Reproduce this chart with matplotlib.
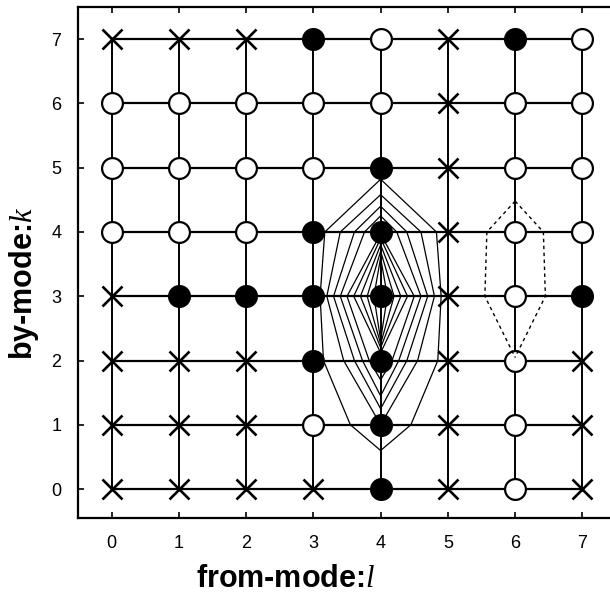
import numpy as np
import matplotlib
matplotlib.use('Agg')
import matplotlib.pyplot as plt

plt.rcParams['font.family'] = ['Liberation Sans', 'DejaVu Sans']
plt.rcParams['mathtext.fontset'] = 'custom'
plt.rcParams['mathtext.it'] = 'Liberation Serif:italic'
plt.rcParams['mathtext.rm'] = 'Liberation Serif'

# ---------------- data ----------------
from_modes = [0, 1, 2, 3, 4, 5, 6, 7]          # l (x axis)
by_modes = [0, 1, 2, 3, 4, 5, 6, 7]            # k (y axis)
x_tick_labels = ['0', '1', '2', '3', '4', '5', '6', '7']
y_tick_labels = ['0', '1', '2', '3', '4', '5', '6', '7']

# node type per by-mode k, one character per from-mode l
# x = cross, o = open circle, f = filled circle
node_rows = {
    7: "xxxfoxfo",
    6: "oooooxoo",
    5: "oooofxoo",
    4: "oooffxoo",
    3: "xffffxof",
    2: "xxxffxox",
    1: "xxxofxox",
    0: "xxxxfxox",
}

# solid nested lens around l=4: half-widths at rows k=4,3,2,1 (None = not reached)
lens_center_l = 4
lens_top = [3.60, 3.70, 3.80, 3.90, 3.97, 4.25, 4.40, 4.58, 4.82]
lens_w4 = [None, None, None, None, None, 0.24, 0.39, 0.60, 0.83]
lens_w3 = [0.10, 0.20, 0.30, 0.40, 0.50, 0.60, 0.70, 0.80, 0.90]
lens_w2 = [None, None, None, None, 0.17, 0.27, 0.39, 0.55, 0.85]
lens_w1 = [None, None, None, None, None, None, None, None, 0.45]
lens_bottom = [2.32, 2.26, 2.20, 2.12, 1.70, 1.45, 1.25, 1.00, 0.60]

# dotted lens around l=6
dot_center_l = 6
dot_top = 4.48
dot_w4 = 0.42
dot_w3 = 0.45
dot_bottom = 2.05

# ---------------- figure ----------------
fig = plt.figure(figsize=(6.10, 5.98), dpi=100)
ax = fig.add_axes([78/610, (598-518)/598, (616-78)/610, (518-7)/598])

# grid lines
for k in by_modes:
    ax.plot([from_modes[0], from_modes[-1]], [k, k], color='black', lw=1.6, zorder=2)
for l in from_modes:
    ax.plot([l, l], [by_modes[0], by_modes[-1]], color='black', lw=1.4, zorder=2)

# solid lens
for i in range(len(lens_w3)):
    ys = [lens_top[i]]
    ws = [0.0]
    for row, wl in ((4, lens_w4), (3, lens_w3), (2, lens_w2), (1, lens_w1)):
        if wl[i] is not None:
            ys.append(row)
            ws.append(wl[i])
    ys.append(lens_bottom[i])
    ws.append(0.0)
    ys = np.array(ys, float)
    ws = np.array(ws, float)
    for sgn in (-1, 1):
        ax.plot(lens_center_l + sgn * ws, ys, color='black', lw=0.9, zorder=3)

# dotted lens
dys = np.array([dot_top, 4, 3, dot_bottom])
dws = np.array([0.0, dot_w4, dot_w3, 0.0])
for sgn in (-1, 1):
    ax.plot(dot_center_l + sgn * dws, dys, color='black', lw=1.0,
            linestyle=(0, (2.5, 2.5)), zorder=5)

# nodes
for k, row in node_rows.items():
    for l, c in zip(from_modes, row):
        if c == 'x':
            ax.plot(l, k, marker='x', ms=15, mew=1.9, color='black', zorder=4,
                    linestyle='none')
        elif c == 'o':
            ax.plot(l, k, marker='o', ms=15, mew=1.6, mfc='white', mec='black',
                    zorder=4, linestyle='none')
        else:
            ax.plot(l, k, marker='o', ms=15, mew=1.6, mfc='black', mec='black',
                    zorder=4, linestyle='none')

ax.set_xlim(-0.5, 7.5)
ax.set_ylim(-0.45, 7.5)
ax.set_xticks(from_modes)
ax.set_xticklabels(x_tick_labels)
ax.set_yticks(by_modes)
ax.set_yticklabels(y_tick_labels)
ax.tick_params(direction='in', length=4, width=1.2, top=True, right=True,
               labelsize=13, pad=12)
for s in ax.spines.values():
    s.set_linewidth(1.6)

fig.text(286/610, (598-587)/598, 'from-mode:$l$', ha='center', va='baseline',
         fontsize=22, fontweight='bold')
fig.text(24/610, 1 - 283/598, 'by-mode:$k$', ha='center', va='center',
         rotation=90, fontsize=22, fontweight='bold')

fig.savefig('out.png', dpi=100)
